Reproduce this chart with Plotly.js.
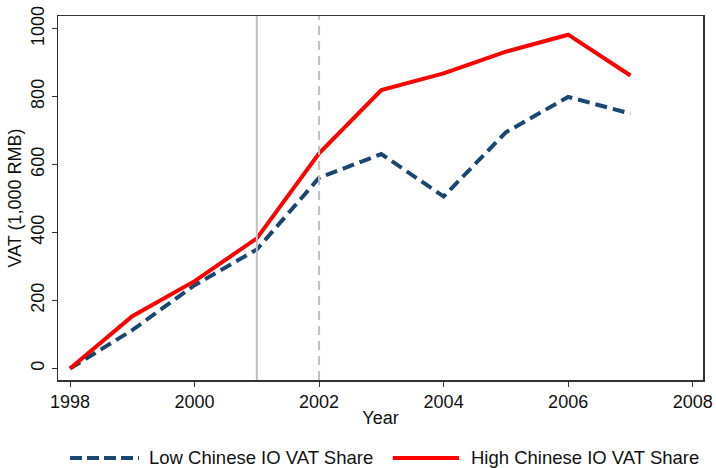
<!DOCTYPE html>
<html><head><meta charset="utf-8">
<script src="https://cdn.plot.ly/plotly-3.0.1.min.js"></script>
<style>html,body{margin:0;padding:0;background:#fff;}</style>
</head><body>
<div id="chart" style="width:716px;height:468px;"></div>
<script>
var years = [1998,1999,2000,2001,2002,2003,2004,2005,2006,2007];
var lowShare = [0,113,245,350,561,631,506,695,799,750];
var highShare = [0,154,257,383,633,819,868,932,982,862];
var seriesNames = ['Low Chinese IO VAT Share','High Chinese IO VAT Share'];
var xTicks = [1998,2000,2002,2004,2006,2008];
var yTicks = [0,200,400,600,800,1000];
var eventYears = [2001,2002];

var font = {family:'Liberation Sans, Arial, sans-serif', size:18, color:'#111'};
var legFont = {family:'Liberation Sans, Arial, sans-serif', size:18.5, color:'#111'};
var lowLine = {color:'#1a476f', width:4, dash:'12px,6px'};
var highLine = {color:'#ff0000', width:4};
var traces = [
  {x:years, y:lowShare, type:'scatter', mode:'lines', name:seriesNames[0], line:lowLine},
  {x:years, y:highShare, type:'scatter', mode:'lines', name:seriesNames[1], line:highLine}
];
var legY = -0.214;
var shapes = [
  {type:'line', xref:'x', yref:'paper', x0:eventYears[0], x1:eventYears[0], y0:0, y1:1,
   line:{color:'#c0c0c0', width:2}},
  {type:'line', xref:'x', yref:'paper', x0:eventYears[1], x1:eventYears[1], y0:0, y1:1,
   line:{color:'#c0c0c0', width:2, dash:'9px,6px'}},
  {type:'line', xref:'paper', yref:'paper', x0:0.0186, x1:0.1256, y0:legY, y1:legY,
   line:{color:lowLine.color, width:4, dash:'12px,5px'}},
  {type:'line', xref:'paper', yref:'paper', x0:0.519, x1:0.6217, y0:legY, y1:legY,
   line:{color:highLine.color, width:4}}
];
var annotations = [
  {xref:'paper', yref:'paper', x:0.1375, y:legY, xanchor:'left', yanchor:'middle',
   text:seriesNames[0], showarrow:false, font:legFont},
  {xref:'paper', yref:'paper', x:0.637, y:legY, xanchor:'left', yanchor:'middle',
   text:seriesNames[1], showarrow:false, font:legFont}
];
var layout = {
  width:716, height:468,
  margin:{l:58, r:13, t:16, b:88, autoexpand:false},
  paper_bgcolor:'#fff', plot_bgcolor:'#fff',
  font:font,
  showlegend:false,
  xaxis:{range:[1997.807,2008.166], tickvals:xTicks, ticks:'outside', ticklen:5, tickcolor:'#333',
         showgrid:false, zeroline:false, showline:true, linecolor:'#333', linewidth:1.5, mirror:true,
         ticklabelstandoff:0, automargin:false,
         title:{text:'Year', font:font, standoff:0}, tickfont:font},
  yaxis:{range:[-33.8,1037], tickvals:yTicks, ticks:'outside', ticklen:5, tickcolor:'#333',
         tickangle:-90, showgrid:false, zeroline:false, showline:true, linecolor:'#333', linewidth:1.5, mirror:true,
         automargin:false,
         title:{text:'VAT (1,000 RMB)', font:font, standoff:2}, tickfont:font},
  shapes:shapes,
  annotations:annotations
};
Plotly.newPlot('chart', traces, layout, {displayModeBar:false, staticPlot:true});
</script>
</body></html>
